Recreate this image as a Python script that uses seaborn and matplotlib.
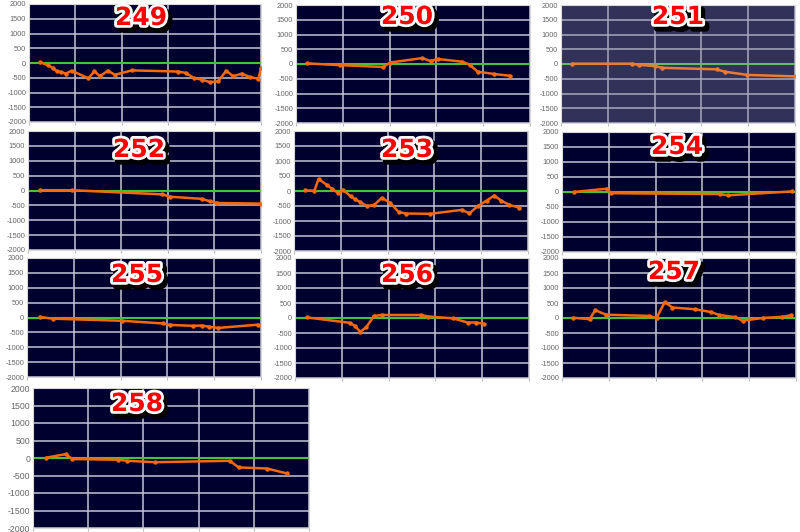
import matplotlib
matplotlib.use("Agg")
import matplotlib.pyplot as plt
import matplotlib.patheffects as pe
import seaborn as sns

# x is the position along the chart (0-100), y is the value
X_249 = [4.7, 8.3, 10.2, 12, 14, 15.8, 18.4, 25.6, 28.2, 30.6, 34, 37, 44.3, 64.4,
         67.7, 71.3, 74.4, 78, 81.6, 85, 88, 91.7, 95.3, 98.9, 100]
Y_249 = [30, -80, -170, -280, -310, -360, -260, -520, -280, -450, -260, -400, -250, -290,
         -340, -520, -560, -650, -620, -260, -450, -360, -480, -530, -170]

X_250 = [4.8, 18.8, 37.3, 40.2, 54, 57.5, 60.5, 70.8, 74.2, 77.6, 84.8, 91.5]
Y_250 = [20, -40, -100, 50, 200, 100, 170, 80, -20, -260, -340, -400]

X_251 = [4.8, 30.4, 33.5, 40, 43.3, 66.5, 69.9, 79.7, 100]
Y_251 = [10, 10, -30, -70, -130, -180, -260, -370, -420]

X_252 = [5, 18.9, 57.7, 61, 74.6, 77.9, 81.3, 100]
Y_252 = [10, 10, -130, -210, -280, -360, -420, -440]

X_253 = [4.8, 8.7, 10.5, 13.9, 16.3, 18.9, 21, 24.2, 26, 28.3, 31.2, 34.3, 37.5,
         41.1, 44.7, 47.8, 58.2, 71.6, 75, 78.6, 82.3, 85.6, 88.5, 92, 96]
Y_253 = [20, 10, 400, 210, 70, -70, 40, -180, -270, -370, -500, -460, -230,
         -390, -700, -750, -760, -630, -740, -500, -320, -150, -320, -460, -550]

X_254 = [5, 19.1, 21, 67.4, 71, 98.3]
Y_254 = [0, 110, -40, -70, -110, 20]

X_255 = [5.4, 11, 40.7, 58.1, 61.1, 71.1, 74.7, 77.9, 81.7, 98.9]
Y_255 = [20, -40, -110, -200, -250, -280, -270, -310, -350, -240]

X_256 = [5, 23.4, 25.5, 27.9, 30.5, 33.8, 37.2, 53.9, 57, 67.4, 73.8, 77.3, 80.6]
Y_256 = [20, -160, -260, -460, -300, 70, 100, 100, 50, -10, -150, -150, -190]

X_257 = [4.7, 11.8, 14.2, 18.8, 37.3, 40.4, 43.9, 47.2, 57, 63.5, 67.3, 74, 77.2,
         85.7, 94.2, 97.7]
Y_257 = [10, -40, 260, 110, 70, 0, 530, 350, 290, 200, 100, 30, -90,
         0, 40, 90]

X_258 = [4.8, 11.8, 14.3, 30.9, 34.2, 44.2, 71.3, 74.5, 84.8, 91.9]
Y_258 = [10, 110, -30, -50, -80, -120, -80, -270, -300, -440]

TITLES = ["249", "250", "251", "252", "253", "254", "255", "256", "257", "258"]
Y_TICKS = [2000, 1500, 1000, 500, 0, -500, -1000, -1500, -2000]

W, H = 800, 532

# panel boxes in pixels: left, top, right, bottom ; title centre x, y ; tick font size
PANELS = [
    (X_249, Y_249, (29, 4, 261, 122), (141, 18), 5.3),
    (X_250, Y_250, (296, 5, 530, 123), (407, 17), 5.3),
    (X_251, Y_251, (561, 5, 795, 123), (678, 17), 5.3),
    (X_252, Y_252, (28, 131, 261, 250), (139, 150), 5.3),
    (X_253, Y_253, (294, 131, 528, 251), (407, 150), 5.3),
    (X_254, Y_254, (562, 132, 796, 252), (677, 147), 5.3),
    (X_255, Y_255, (27, 258, 261, 377), (137, 275), 5.3),
    (X_256, Y_256, (295, 258, 529, 378), (407, 275), 5.3),
    (X_257, Y_257, (562, 258, 796, 378), (674, 272), 5.3),
    (X_258, Y_258, (33, 388, 309, 528), (137, 404), 6.3),
]

sns.set_style("white")
plt.rcParams["font.family"] = ["Liberation Sans", "DejaVu Sans"]

fig = plt.figure(figsize=(W / 100, H / 100), dpi=100)

for i, (xs, ys, box, tpos, tfs) in enumerate(PANELS):
    l, t, r, b = box
    ax = fig.add_axes([l / W, 1 - b / H, (r - l) / W, (b - t) / H])
    faded = TITLES[i] == "251"
    bg = "#31315a" if faded else "#00002f"
    grid_c = "#a8a8bc" if faded else "#c4c4d4"
    line_c = "#ee7a30" if faded else "#f5690a"
    zero_c = "#66bb66" if faded else "#45c23a"

    ax.set_facecolor(bg)
    ax.set_xlim(0, 100)
    ax.set_ylim(-2000, 2000)
    ax.set_xticks([0, 20, 40, 60, 80, 100])
    ax.set_yticks(Y_TICKS)
    ax.set_xticklabels([])
    ax.set_yticklabels([str(v) for v in Y_TICKS], fontsize=tfs, color="#666666")
    ax.tick_params(axis="y", length=0, pad=2)
    ax.tick_params(axis="x", length=2, color="#bbbbbb", bottom=True)
    ax.grid(True, color=grid_c, linewidth=1.1)
    ax.set_axisbelow(True)
    for s in ax.spines.values():
        s.set_color("#d8d8d8")
        s.set_linewidth(0.8)

    ax.axhline(0, color=zero_c, linewidth=1.5, zorder=2)
    sns.lineplot(x=xs, y=ys, ax=ax, color=line_c, linewidth=1.8, marker="o",
                 markersize=3.2, markeredgewidth=0, sort=False, zorder=3)
    ax.set_xlabel("")
    ax.set_ylabel("")

    fig.text(tpos[0] / W, 1 - tpos[1] / H, TITLES[i], color="#ff0000",
             fontsize=18, fontweight="bold", family="DejaVu Sans",
             ha="center", va="center", zorder=10,
             path_effects=[pe.Stroke(offset=(2.5, -3), linewidth=5, foreground="black"),
                           pe.Stroke(linewidth=4, foreground="white"),
                           pe.Normal()])

fig.savefig("out.png", dpi=100)
